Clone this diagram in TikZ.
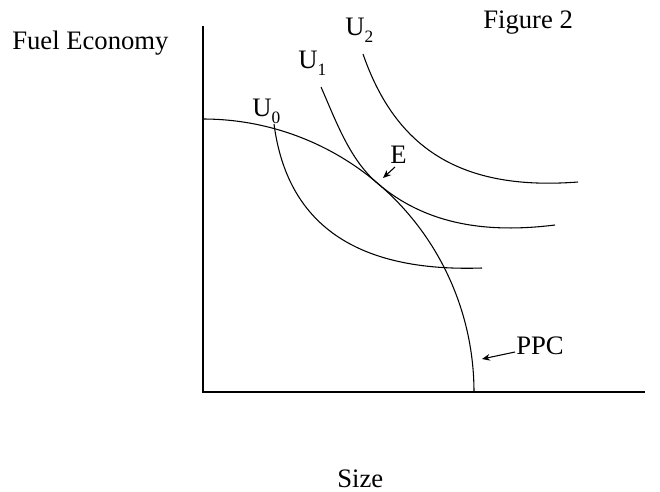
\documentclass[tikz,border=0pt]{standalone}
\usepackage{fontspec}
\setmainfont{Liberation Serif}
\usetikzlibrary{arrows.meta}
\begin{document}
\begin{tikzpicture}[x=0.75pt,y=-0.75pt,
  lbl/.style={inner sep=0pt,anchor=base west,font=\fontsize{20}{24}\selectfont},
  curve/.style={line width=0.8pt,black},
  axis/.style={line width=0.8pt,black},
  pointer/.style={line width=0.8pt,-{Stealth[length=6pt,width=5pt]}}]
\useasboundingbox (0,0) rectangle (660,492);
\newcommand{\subnum}[1]{\raisebox{-0.25em}{\fontsize{13}{14}\selectfont #1}}
% axes
\coordinate (origin) at (203,392);
\coordinate (ytop) at (203,26);
\coordinate (xend) at (645,392);
\draw[axis] (ytop) -- (origin) -- (xend);
% PPC
\draw[curve] plot[domain=-90:0,samples=90] ({203+271*cos(\x)},{392+273*sin(\x)});
% indifference curves
\draw[curve] (274,124) .. controls (287.1,224.4) and (356.3,272.3) .. (482,268);
\coordinate (E) at (378,183.8);
\draw[curve] (321,87) .. controls (336,121) and (349.7,160) .. (E)
  .. controls (422.5,221.3) and (479.2,234.5) .. (555,225);
\draw[curve] (363,54) .. controls (396,149.4) and (462,191) .. (578,182);
% labels
\node[lbl] (fe) at (12,50) {Fuel Economy};
\node[lbl] (fig) at (483,29) {Figure 2};
\node[lbl] (size) at (337,487) {Size};
\node[lbl] (u0) at (252,117) {U\subnum{0}};
\node[lbl] (u1) at (298,69) {U\subnum{1}};
\node[lbl] (u2) at (345,36) {U\subnum{2}};
\node[lbl] (e) at (390,163) {E};
\node[lbl] (ppc) at (516,354) {PPC};
% pointers
\coordinate (etail) at (395,167);
\coordinate (etip) at (383,178);
\draw[pointer] (etail) -- (etip);
\coordinate (ptail) at (515,352);
\coordinate (ptip) at (482,359);
\draw[pointer] (ptail) -- (ptip);
\end{tikzpicture}
\end{document}
